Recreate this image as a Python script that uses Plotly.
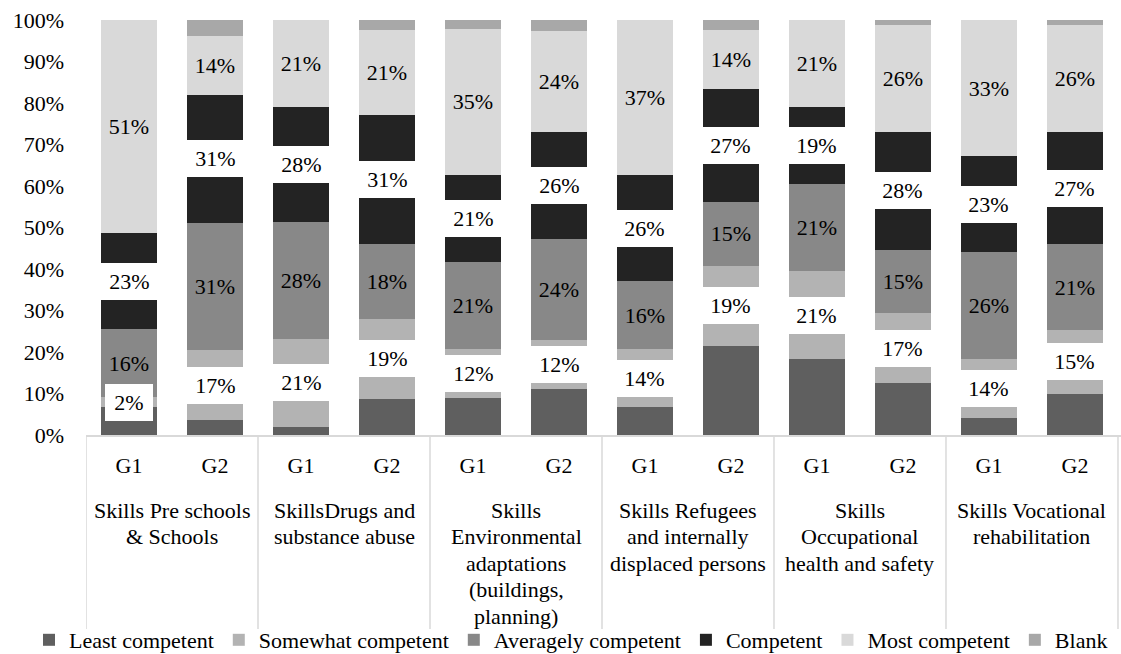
import plotly.graph_objects as go

# ---------------- data ----------------
groups = [
    "Skills Pre schools<br>& Schools",
    "SkillsDrugs and<br>substance abuse",
    "Skills<br>Environmental<br>adaptations<br>(buildings,<br>planning)",
    "Skills Refugees<br>and internally<br>displaced persons",
    "Skills<br>Occupational<br>health and safety",
    "Skills Vocational<br>rehabilitation",
]
subgroups = ["G1", "G2"]

least_competent = [6.7, 3.5, 1.9, 8.7, 9.0, 11.1, 6.7, 21.5, 18.2, 12.6, 4.2, 9.9]
somewhat_competent = [2.4, 17.0, 21.3, 19.3, 11.7, 11.8, 14.0, 19.3, 21.3, 16.7, 14.1, 15.4]
averagely_competent = [16.4, 30.7, 28.1, 18.1, 21.0, 24.3, 16.3, 15.4, 20.9, 15.4, 25.7, 20.7]
competent = [23.1, 30.7, 27.8, 30.9, 21.0, 25.8, 25.7, 27.1, 18.6, 28.2, 23.2, 26.9]
most_competent = [51.4, 14.3, 20.9, 20.6, 35.1, 24.4, 37.3, 14.3, 21.0, 25.9, 32.8, 25.9]
blank = [0.0, 3.8, 0.0, 2.4, 2.2, 2.6, 0.0, 2.4, 0.0, 1.2, 0.0, 1.2]

series_names = ["Least competent", "Somewhat competent", "Averagely competent",
                "Competent", "Most competent", "Blank"]
y_ticks = [0, 10, 20, 30, 40, 50, 60, 70, 80, 90, 100]

# ---------------- style ----------------
FONT = "Liberation Serif"
FS = 22
colors = ["#5f5f5f", "#b3b3b3", "#888888", "#232323", "#d9d9d9", "#a8a8a8"]
label_style = [None, "box", "plain", "box", "plain", None]

W, H = 1121, 654
L, R, T, B = 86, 0, 20, 219
PLOT_W = W - L - R
PLOT_H = H - T - B
AXIS_Y = H - B


def py(pix):
    """figure pixel row -> paper y"""
    return (AXIS_Y - pix) / PLOT_H


def px(pix):
    """figure pixel column -> paper x"""
    return (pix - L) / PLOT_W


keys = [f"{g}|{s}" for g in groups for s in subgroups]
inner = subgroups * len(groups)
series = [least_competent, somewhat_competent, averagely_competent,
          competent, most_competent, blank]

fig = go.Figure()
annotations = []
shapes = []
base = [0.0] * len(keys)
for name, vals, col, ls in zip(series_names, series, colors, label_style):
    labels = [f"{round(v)}%" for v in vals]
    fig.add_trace(go.Bar(
        x=keys, y=vals, name=name,
        marker=dict(color=col, line=dict(width=0)),
        text=labels if ls == "plain" else None,
        textposition="inside" if ls == "plain" else "none",
        insidetextanchor="middle",
        textangle=0,
        textfont=dict(family=FONT, size=FS, color="#000000"),
        hoverinfo="skip",
    ))
    if ls == "box":
        for i, (v, lab) in enumerate(zip(vals, labels)):
            ndig = len(lab) - 1
            annotations.append(dict(
                x=i, y=base[i] + v / 2, xref="x", yref="y",
                text=lab, showarrow=False,
                font=dict(family=FONT, size=FS, color="#000000"),
                bgcolor="#ffffff", borderpad=0, borderwidth=0,
                width=11 * ndig + 37, height=37,
                align="center", valign="middle",
            ))
    base = [b + v for b, v in zip(base, vals)]

# group (outer level) labels and dividers
n_sub = len(subgroups)
for gi, g in enumerate(groups):
    center = gi * n_sub + (n_sub - 1) / 2
    for li, line in enumerate(g.split("<br>")):
        annotations.append(dict(
            x=center, y=py(510 + 26.5 * li), xref="x", yref="paper",
            text=line, showarrow=False, xanchor="center", yanchor="middle",
            font=dict(family=FONT, size=FS, color="#000000"),
        ))
for gi in range(len(groups) + 1):
    xb = gi * n_sub - 0.5
    shapes.append(dict(
        type="line", xref="x", yref="paper", x0=xb, x1=xb,
        y0=0, y1=py(629), line=dict(color="#d9d9d9", width=1.5),
    ))

fig.update_layout(
    width=W, height=H,
    margin=dict(l=L, r=R, t=T, b=B, autoexpand=False),
    barmode="stack",
    bargap=0.35,
    paper_bgcolor="#ffffff", plot_bgcolor="#ffffff",
    font=dict(family=FONT, size=FS, color="#000000"),
    showlegend=True,
    legend=dict(
        orientation="h", xref="paper", yref="paper",
        x=px(29), xanchor="left", y=py(640), yanchor="middle",
        traceorder="normal", font=dict(family=FONT, size=FS, color="#000000"),
        itemclick=False, itemdoubleclick=False, itemwidth=30,
        bgcolor="rgba(0,0,0,0)",
    ),
    annotations=annotations,
    shapes=shapes,
    uniformtext=dict(minsize=FS, mode="show"),
)
fig.update_xaxes(
    type="category",
    range=[-0.5, 11.535],
    tickvals=keys, ticktext=inner,
    showline=True, linecolor="#d9d9d9", linewidth=1.5,
    showgrid=False, zeroline=False, ticks="",
    ticklabelstandoff=10,
    tickfont=dict(family=FONT, size=FS, color="#000000"),
    automargin=False,
)
fig.update_yaxes(
    range=[0, 100], tickvals=y_ticks, ticktext=[f"{t}%" for t in y_ticks],
    showgrid=False, zeroline=False, showline=False, ticks="",
    ticklabelstandoff=21,
    tickfont=dict(family=FONT, size=FS, color="#000000"),
    automargin=False,
)

fig.write_html("out.html")
